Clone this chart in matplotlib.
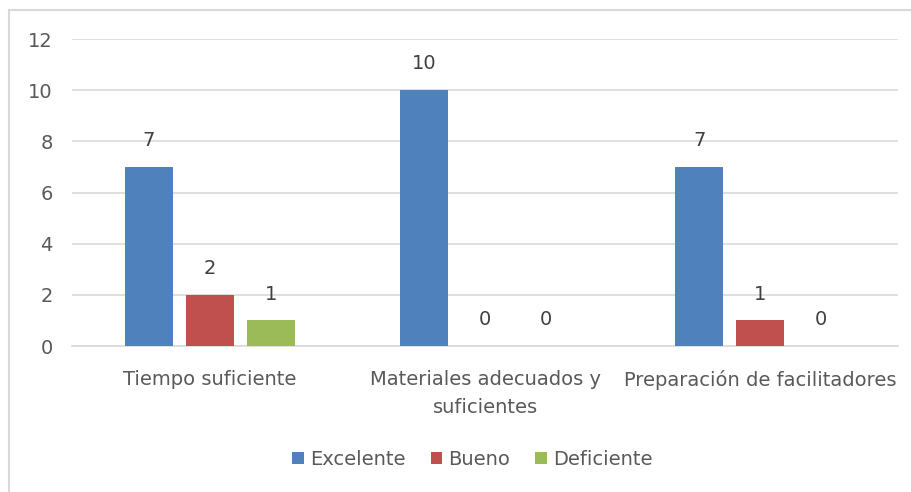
import numpy as np
import matplotlib.pyplot as plt
from matplotlib.patches import Rectangle

categorias = ['Tiempo suficiente', 'Materiales adecuados y\nsuficientes', 'Preparación de facilitadores']
series = ['Excelente', 'Bueno', 'Deficiente']
excelente = [7, 10, 7]
bueno = [2, 0, 1]
deficiente = [1, 0, 0]
colores = ['#4F81BD', '#C0504D', '#9BBB59']
yticks = [0, 2, 4, 6, 8, 10, 12]

plt.rcParams['font.family'] = ['DejaVu Sans']
gris = '#595959'
fs = 14

fig = plt.figure(figsize=(9.12, 4.92), dpi=100)
ax = fig.add_axes([0.079, 0.2967, 0.9056, 0.624])

# chart frame (only left/top visible)
fig.patches.append(Rectangle((9 / 912, -0.1), 1.2, 1 - 10 / 492 + 0.1,
                             transform=fig.transFigure, fill=False,
                             edgecolor='#D9D9D9', linewidth=1.5))

x = np.arange(len(categorias))
ancho = 0.1745
paso = 0.2216
for i, (nombre, valores) in enumerate(zip(series, [excelente, bueno, deficiente])):
    pos = x + (i - 1) * paso
    ax.bar(pos, valores, width=ancho, color=colores[i], label=nombre, zorder=3)
    for px, v in zip(pos, valores):
        ax.annotate(str(v), (px, v), xytext=(0, 19), textcoords='offset points',
                    ha='center', va='center', fontsize=fs, color='#404040')

ax.set_xlim(-0.5, 2.5)
ax.set_ylim(0, 12)
ax.set_yticks(yticks)
ax.set_xticks(x)
ax.set_xticklabels(categorias, fontsize=fs, color=gris, linespacing=1.6)
ax.tick_params(axis='y', labelsize=fs, labelcolor=gris, length=0, pad=14)
ax.tick_params(axis='x', length=0, pad=17)
ax.grid(axis='y', color='#D9D9D9', linewidth=1.2, zorder=0)
for s in ['top', 'right', 'left']:
    ax.spines[s].set_visible(False)
ax.spines['bottom'].set_color('#D9D9D9')
ax.spines['bottom'].set_linewidth(1.2)

fig.legend(loc='center', bbox_to_anchor=(0.518, 0.066), ncol=3, frameon=False,
           fontsize=fs, labelcolor=gris, handlelength=0.6, handleheight=0.6,
           handletextpad=0.3, columnspacing=1.3)

fig.savefig('out.png', dpi=100)
